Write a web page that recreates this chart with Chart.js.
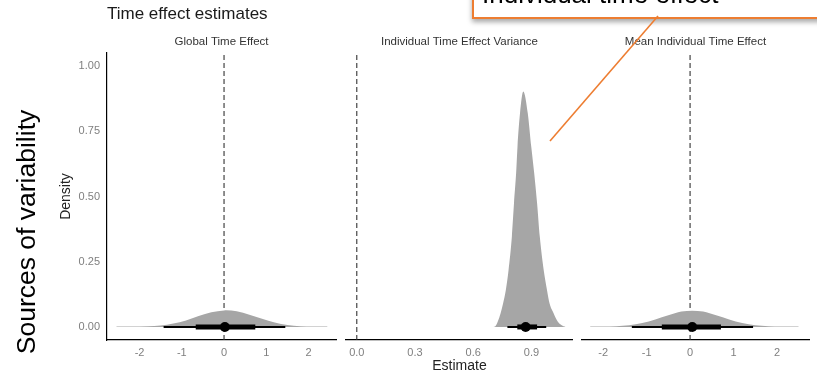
<!DOCTYPE html>
<html>
<head>
<meta charset="utf-8">
<script src="https://cdn.jsdelivr.net/npm/chart.js@4.4.1/dist/chart.umd.min.js"></script>
<style>
    body { margin: 0; background: #fff; }
    #wrap { position: relative; width: 817px; height: 377px; overflow: hidden; font-family: "Liberation Sans", Arial, sans-serif; }
    #wrap canvas { position: absolute; top: 0; }
    .main-title { position: absolute; left: 107px; top: 4px; font-size: 17px; line-height: 20px; color: #1a1a1a; }
    .side-label { position: absolute; left: -104px; top: 217px; width: 260px; height: 30px; line-height: 30px; text-align: center;
        font-size: 26.5px; color: #000; transform: rotate(-90deg); white-space: nowrap; }
    .callout { position: absolute; left: 472px; top: -40px; width: 400px; height: 55px; background: #fff;
        border: 2px solid #ed7d31; box-shadow: 0 3px 5px rgba(0,0,0,0.35); }
    .callout-text { position: absolute; left: 482px; top: -19px; font-size: 26px; line-height: 26px; color: #000; white-space: nowrap; }
    #arrow { position: absolute; left: 0; top: 0; }
</style>
</head>
<body>
<div id="wrap">
    <canvas id="global-chart" width="340" height="377" style="left:0px"></canvas>
    <canvas id="variance-chart" width="230" height="377" style="left:343px"></canvas>
    <canvas id="mean-chart" width="229" height="377" style="left:581px"></canvas>
    <div class="main-title">Time effect estimates</div>
    <div class="side-label">Sources of variability</div>
    <div class="callout"></div>
    <div class="callout-text">Individual time effect</div>
    <svg id="arrow" width="817" height="377">
        <line x1="658" y1="16" x2="550" y2="141" stroke="#ed7d31" stroke-width="1.6"/>
    </svg>
</div>
<script>
// shared y scale
const yRange = [-0.05, 1.05];
const yTicks = [0, 0.25, 0.5, 0.75, 1];
const zeroLine = 0;
const panelTitles = ['Global Time Effect', 'Individual Time Effect Variance', 'Mean Individual Time Effect'];

// Global time effect
const globalRange = [-2.77, 2.65];
const globalTicks = [-2, -1, 0, 1, 2];
const globalX = [-2.55, -2.2, -1.8, -1.5, -1.2, -0.9, -0.6, -0.3, 0, 0.05, 0.3, 0.6, 0.9, 1.2, 1.5, 1.8, 2.1, 2.45];
const globalDensity = [0.002, 0.002, 0.003, 0.0055, 0.013, 0.025, 0.042, 0.056, 0.063, 0.064, 0.06, 0.047, 0.031, 0.017, 0.0075, 0.003, 0.002, 0.002];
const globalOuter = [-1.43, 1.45];
const globalInner = [-0.67, 0.74];
const globalPoint = 0.02;

// Individual time effect variance
const varianceRange = [-0.056, 1.114];
const varianceTicks = [0, 0.3, 0.6, 0.9];
const varianceX = [0.705, 0.714, 0.726, 0.741, 0.754, 0.768, 0.782, 0.799, 0.81, 0.821, 0.828, 0.841, 0.858,
    0.881, 0.899, 0.914, 0.929, 0.943, 0.963, 0.98, 0.993, 1.014, 1.036, 1.065, 1.075];
const varianceDensity = [0.001, 0.003, 0.02, 0.053, 0.091, 0.142, 0.218, 0.346, 0.474, 0.59, 0.691, 0.819, 0.902,
    0.819, 0.691, 0.59, 0.474, 0.346, 0.218, 0.142, 0.091, 0.053, 0.02, 0.003, 0.001];
const varianceOuter = [0.776, 0.976];
const varianceInner = [0.827, 0.929];
const variancePoint = 0.87;

// Mean individual time effect
const meanRange = [-2.51, 2.76];
const meanTicks = [-2, -1, 0, 1, 2];
const meanX = [-2.3, -2.0, -1.7, -1.4, -1.1, -0.8, -0.5, -0.2, 0.05, 0.3, 0.6, 0.9, 1.2, 1.5, 1.8, 2.1, 2.5];
const meanDensity = [0.002, 0.002, 0.003, 0.0065, 0.015, 0.029, 0.045, 0.059, 0.0625, 0.059, 0.045, 0.029, 0.015, 0.0065, 0.003, 0.002, 0.002];
const meanOuter = [-1.34, 1.45];
const meanInner = [-0.65, 0.71];
const meanPoint = 0.05;

const fontFamily = '"Liberation Sans", Arial, sans-serif';
const tickColor = '#7f7f7f';

function buildPanel(id, cfg) {
    const ctx = document.getElementById(id).getContext('2d');
    return new Chart(ctx, {
        type: 'scatter',
        data: {
            datasets: [
                {   // dashed reference line at zero
                    data: yRange.map(y => ({x: zeroLine, y: y})),
                    showLine: true, borderColor: '#333', borderWidth: 1.1, borderDash: [5, 3],
                    pointRadius: 0, order: 4
                },
                {   // density slab
                    data: cfg.x.map((x, i) => ({x: x, y: cfg.density[i]})),
                    showLine: true, fill: {value: 0}, backgroundColor: '#a6a6a6',
                    borderColor: 'rgba(0,0,0,0)', borderWidth: 1, pointRadius: 0,
                    cubicInterpolationMode: 'monotone', order: 3
                },
                {   // outer interval
                    data: cfg.outer.map(x => ({x: x, y: 0})),
                    showLine: true, borderColor: '#000', borderWidth: 2, pointRadius: 0, order: 2
                },
                {   // inner interval
                    data: cfg.inner.map(x => ({x: x, y: 0})),
                    showLine: true, borderColor: '#000', borderWidth: 5, pointRadius: 0, order: 1
                },
                {   // point estimate
                    data: [{x: cfg.point, y: 0}],
                    pointRadius: 5, backgroundColor: '#000', borderWidth: 0, order: 0
                }
            ]
        },
        options: {
            responsive: false,
            animation: false,
            layout: {
                padding: {top: 0, bottom: 0, left: 0, right: cfg.padRight || 0},
                autoPadding: false
            },
            plugins: {
                legend: {display: false},
                tooltip: {enabled: false},
                title: {
                    display: true, text: cfg.title, fullSize: false, color: '#333',
                    font: {family: fontFamily, size: 11.5, weight: 'normal'},
                    padding: {top: 35, bottom: 4.2}
                }
            },
            scales: {
                x: {
                    type: 'linear', position: 'bottom',
                    min: cfg.range[0], max: cfg.range[1],
                    grid: {display: false, drawTicks: false},
                    border: {display: true, color: '#000', width: 1.2},
                    afterBuildTicks: scale => { scale.ticks = cfg.ticks.map(v => ({value: v})); },
                    afterFit: scale => { scale.height = 37; },
                    ticks: {
                        padding: 6, color: tickColor, maxRotation: 0, autoSkip: false,
                        font: {family: fontFamily, size: 11},
                        callback: v => v.toFixed(cfg.decimals)
                    },
                    title: {
                        display: !!cfg.xTitle, text: cfg.xTitle || '', color: '#222',
                        font: {family: fontFamily, size: 14}, padding: {top: 0, bottom: 2}
                    }
                },
                y: {
                    display: !!cfg.showY,
                    min: yRange[0], max: yRange[1],
                    grid: {display: false, drawTicks: false},
                    border: {display: true, color: '#000', width: 1.2},
                    afterBuildTicks: scale => { scale.ticks = yTicks.map(v => ({value: v})); },
                    afterFit: scale => { scale.width = cfg.showY ? 107 : 0; },
                    ticks: {
                        padding: 7, color: tickColor,
                        font: {family: fontFamily, size: 11},
                        callback: v => v.toFixed(2)
                    },
                    title: {
                        display: true, text: 'Density', color: '#222',
                        font: {family: fontFamily, size: 14}, padding: {top: 58, bottom: 0}
                    }
                }
            }
        }
    });
}

buildPanel('global-chart', {
    title: panelTitles[0], range: globalRange, ticks: globalTicks, decimals: 0,
    x: globalX, density: globalDensity, outer: globalOuter, inner: globalInner, point: globalPoint,
    showY: true, padRight: 4
});

buildPanel('variance-chart', {
    title: panelTitles[1], range: varianceRange, ticks: varianceTicks, decimals: 1,
    x: varianceX, density: varianceDensity, outer: varianceOuter, inner: varianceInner, point: variancePoint,
    xTitle: 'Estimate'
});

buildPanel('mean-chart', {
    title: panelTitles[2], range: meanRange, ticks: meanTicks, decimals: 0,
    x: meanX, density: meanDensity, outer: meanOuter, inner: meanInner, point: meanPoint
});
</script>
</body>
</html>
